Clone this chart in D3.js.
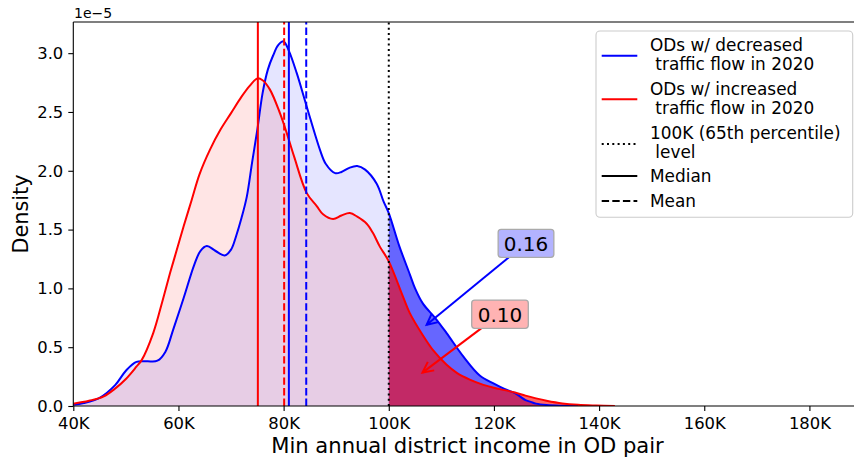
<!DOCTYPE html>
<html>
<head>
<meta charset="utf-8">
<script src="https://cdn.jsdelivr.net/npm/d3@7/dist/d3.min.js"></script>
<style>
  html, body { margin: 0; padding: 0; background: #fff; }
  svg { display: block; font-family: "DejaVu Sans", sans-serif; }
  text { white-space: pre; }
</style>
</head>
<body>
<svg id="chart" width="854" height="460"></svg>
<script>
// ---------------- data (income in K, density in 1e-5) ----------------
const decIncome = [40, 42, 45, 48, 50, 52, 54, 56, 57.5, 59, 61, 63, 64.2, 65.4, 67, 68.8, 70, 71, 72, 73, 74, 75, 76, 77, 78, 79, 80, 81, 82.5, 84.4, 86.9, 88, 89.8, 91, 92.5, 94, 95.5, 97.7, 99, 100, 102, 104, 105, 106.5, 108.8, 111, 114.2, 117.3, 120, 122, 124, 125, 126, 127, 128, 130, 133, 136];
const decDensity = [0.01, 0.025, 0.07, 0.18, 0.30, 0.375, 0.38, 0.385, 0.46, 0.65, 0.92, 1.20, 1.32, 1.36, 1.32, 1.28, 1.33, 1.45, 1.60, 1.78, 2.07, 2.35, 2.66, 2.86, 2.98, 3.07, 3.10, 3.02, 2.83, 2.545, 2.18, 2.06, 1.98, 1.99, 2.025, 2.04, 2.01, 1.89, 1.74, 1.64, 1.36, 1.12, 1.00, 0.87, 0.75, 0.62, 0.42, 0.26, 0.19, 0.145, 0.11, 0.08, 0.05, 0.035, 0.02, 0.008, 0.002, 0.0];

const incIncome = [40, 43, 45.7, 48, 50, 52, 53, 55.2, 57, 58.4, 59.7, 61, 62.5, 64, 66, 68, 70, 72, 73.5, 75, 76, 77.4, 79.3, 80.6, 82, 84.4, 86.3, 87.5, 89.4, 91, 92.6, 94, 95.8, 97, 98.3, 100, 102.7, 104, 106.5, 108.5, 111, 113, 115.4, 118, 120, 122, 124, 126, 128, 130, 133, 136, 139.5, 143];
const incDensity = [0.02, 0.045, 0.08, 0.15, 0.23, 0.334, 0.39, 0.62, 0.90, 1.13, 1.33, 1.53, 1.75, 1.97, 2.18, 2.35, 2.49, 2.63, 2.72, 2.785, 2.77, 2.69, 2.49, 2.32, 2.12, 1.81, 1.70, 1.63, 1.59, 1.62, 1.64, 1.61, 1.55, 1.47, 1.355, 1.23, 0.93, 0.79, 0.60, 0.47, 0.35, 0.28, 0.225, 0.18, 0.155, 0.135, 0.115, 0.088, 0.065, 0.045, 0.022, 0.01, 0.004, 0.0];

const decMedian = 81.0, decMean = 84.3;
const incMedian = 75.1, incMean = 80.1;
const threshold = 100;
const decShare = "0.16", incShare = "0.10";

const xTicks = [40, 60, 80, 100, 120, 140, 160, 180];
const xTickLabels = ["40K", "60K", "80K", "100K", "120K", "140K", "160K", "180K"];
const yTicks = [0, 0.5, 1.0, 1.5, 2.0, 2.5, 3.0];
const yTickLabels = ["0.0", "0.5", "1.0", "1.5", "2.0", "2.5", "3.0"];

const legendLabels = [
  ["ODs w/ decreased", " traffic flow in 2020"],
  ["ODs w/ increased", " traffic flow in 2020"],
  ["100K (65th percentile)", " level"],
  ["Median"],
  ["Mean"]
];

// ---------------- layout ----------------
const BLUE = "#0000ff", RED = "#ff0000";
const svg = d3.select("#chart");
const L = 73.3, R = 862, T = 22, B = 406;
const x = d3.scaleLinear().domain([40, 190]).range([L, R]);
const y = d3.scaleLinear().domain([0, 3.265]).range([B, T]);

const decPts = decIncome.map((v, i) => [v, decDensity[i]]);
const incPts = incIncome.map((v, i) => [v, incDensity[i]]);

const curve = d3.curveCatmullRom.alpha(0.5);
const area = d3.area().x(d => x(d[0])).y0(y(0)).y1(d => Math.min(y(0), y(d[1]))).curve(curve);
const line = d3.line().x(d => x(d[0])).y(d => y(d[1])).curve(curve);

const defs = svg.append("defs");
defs.append("clipPath").attr("id", "leftClip").append("rect")
  .attr("x", L).attr("y", T).attr("width", x(threshold) - L).attr("height", B - T);
defs.append("clipPath").attr("id", "rightClip").append("rect")
  .attr("x", x(threshold)).attr("y", T).attr("width", R - x(threshold)).attr("height", B - T);
defs.append("clipPath").attr("id", "plotClip").append("rect")
  .attr("x", L).attr("y", T).attr("width", R - L).attr("height", B - T);

const plot = svg.append("g").attr("clip-path", "url(#plotClip)");

// light fills left of threshold
const gl = plot.append("g").attr("clip-path", "url(#leftClip)");
gl.append("path").attr("d", area(decPts)).attr("fill", BLUE).attr("fill-opacity", 0.1);
gl.append("path").attr("d", area(incPts)).attr("fill", RED).attr("fill-opacity", 0.1);
// dark fills right of threshold
const gr = plot.append("g").attr("clip-path", "url(#rightClip)");
gr.append("path").attr("d", area(decPts)).attr("fill", BLUE).attr("fill-opacity", 0.6);
gr.append("path").attr("d", area(incPts)).attr("fill", RED).attr("fill-opacity", 0.6);

// curves
plot.append("path").attr("d", line(decPts)).attr("fill", "none").attr("stroke", BLUE).attr("stroke-width", 2);
plot.append("path").attr("d", line(incPts)).attr("fill", "none").attr("stroke", RED).attr("stroke-width", 2);

// vertical lines
const vlines = [
  { v: incMedian, c: RED, dash: null },
  { v: incMean, c: RED, dash: "7.4,3.2" },
  { v: decMedian, c: BLUE, dash: null },
  { v: decMean, c: BLUE, dash: "7.4,3.2" },
  { v: threshold, c: "#000", dash: "2,3.3" }
];
vlines.forEach(d => {
  plot.append("line").attr("x1", x(d.v)).attr("x2", x(d.v)).attr("y1", B).attr("y2", T)
    .attr("stroke", d.c).attr("stroke-width", 2).attr("stroke-dasharray", d.dash);
});

// axes
const xAxis = d3.axisBottom(x).tickValues(xTicks).tickFormat((d, i) => xTickLabels[i])
  .tickSizeInner(5).tickSizeOuter(0).tickPadding(6);
const yAxis = d3.axisLeft(y).tickValues(yTicks).tickFormat((d, i) => yTickLabels[i])
  .tickSizeInner(5).tickSizeOuter(0).tickPadding(5);
const gx = svg.append("g").attr("transform", `translate(0,${B})`).call(xAxis);
const gy = svg.append("g").attr("transform", `translate(${L},0)`).call(yAxis);
[gx, gy].forEach(g => {
  g.select(".domain").remove();
  g.selectAll(".tick line").attr("stroke", "#000").attr("stroke-width", 1.1);
  g.selectAll(".tick text").attr("fill", "#000").style("font-size", "16.4px")
    .style("font-family", "DejaVu Sans");
});

// spines
svg.append("line").attr("x1", L).attr("x2", L).attr("y1", T).attr("y2", B).attr("stroke", "#000").attr("stroke-width", 1.1);
svg.append("line").attr("x1", L).attr("x2", R).attr("y1", B).attr("y2", B).attr("stroke", "#000").attr("stroke-width", 1.1);
svg.append("line").attr("x1", L).attr("x2", R).attr("y1", T).attr("y2", T).attr("stroke", "#000").attr("stroke-width", 1.1);

// offset text and axis labels
svg.append("text").attr("x", 74).attr("y", 18).style("font-size", "14px").text("1e\u22125");
svg.append("text").attr("x", 467.5).attr("y", 453).attr("text-anchor", "middle")
  .style("font-size", "21.1px").text("Min annual district income in OD pair");
svg.append("text").attr("transform", `translate(28,${(T + B) / 2}) rotate(-90)`).attr("text-anchor", "middle")
  .style("font-size", "20.8px").text("Density");

// annotations
function annotate(label, cx, cy, w, h, fill, color, tx, ty) {
  const g = svg.append("g");
  const px = x(tx), py = y(ty);
  const dx = px - cx, dy = py - cy;
  const t = Math.min((w / 2) / Math.abs(dx || 1e-9), (h / 2) / Math.abs(dy || 1e-9));
  const sx = cx + dx * t, sy = cy + dy * t;
  g.append("line").attr("x1", sx).attr("y1", sy).attr("x2", px).attr("y2", py)
    .attr("stroke", color).attr("stroke-width", 2);
  const ang = Math.atan2(py - sy, px - sx);
  const hl = 12, ha = 0.46;
  const p1 = [px - hl * Math.cos(ang - ha), py - hl * Math.sin(ang - ha)];
  const p2 = [px - hl * Math.cos(ang + ha), py - hl * Math.sin(ang + ha)];
  g.append("path").attr("d", `M${p1}L${px},${py}L${p2}`).attr("fill", "none")
    .attr("stroke", color).attr("stroke-width", 2);
  g.append("rect").attr("x", cx - w / 2).attr("y", cy - h / 2).attr("width", w).attr("height", h)
    .attr("rx", 3).attr("fill", fill).attr("stroke", "#aaaaaa").attr("stroke-width", 1.3);
  g.append("text").attr("x", cx).attr("y", cy + 7.3).attr("text-anchor", "middle")
    .style("font-size", "20px").text(label);
}
annotate(decShare, 526, 243.3, 55.7, 28, "#b3b3ff", BLUE, 107.2, 0.69);
annotate(incShare, 500, 314.2, 56.6, 28.3, "#ffb3b3", RED, 106.4, 0.284);

// legend
const lg = svg.append("g");
lg.append("rect").attr("x", 596).attr("y", 31).attr("width", 256.7).attr("height", 186.3).attr("rx", 4)
  .attr("fill", "#fff").attr("fill-opacity", 0.8).attr("stroke", "#cccccc").attr("stroke-width", 1.1);
const handles = [
  { y: 55.7, c: BLUE, dash: null },
  { y: 99.3, c: RED, dash: null },
  { y: 144, c: "#000", dash: "2,3.3" },
  { y: 176, c: "#000", dash: null },
  { y: 201, c: "#000", dash: "7.4,3.2" }
];
const baselines = [[51, 69.5], [95, 113.5], [139, 158], [182], [207]];
handles.forEach((h, i) => {
  lg.append("line").attr("x1", 601.7).attr("x2", 637.3).attr("y1", h.y).attr("y2", h.y)
    .attr("stroke", h.c).attr("stroke-width", 2).attr("stroke-dasharray", h.dash);
  legendLabels[i].forEach((s, j) => {
    lg.append("text").attr("x", 650).attr("y", baselines[i][j]).style("font-size", "16.9px").text(s);
  });
});
</script>
</body>
</html>
